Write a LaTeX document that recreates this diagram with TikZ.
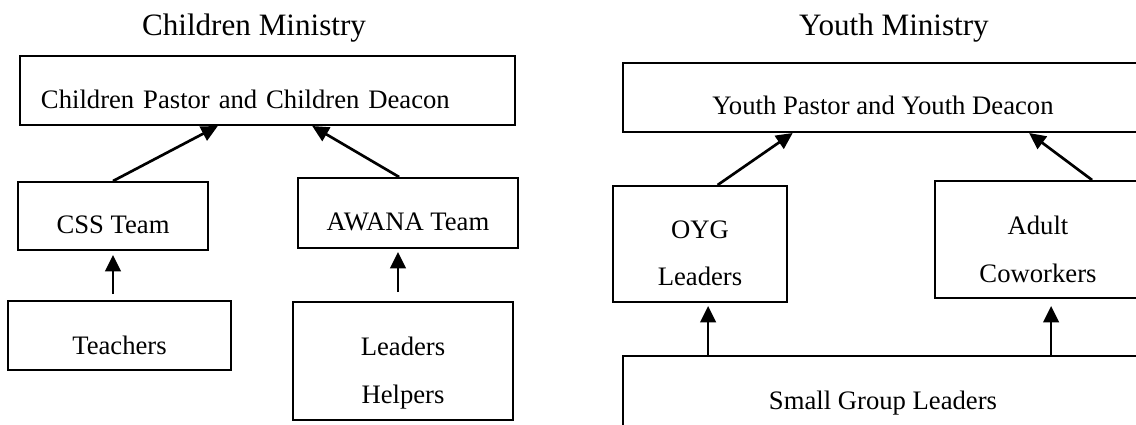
\documentclass[tikz,border=0pt]{standalone}
\usepackage{fontspec}
\setmainfont{Liberation Serif}
\usetikzlibrary{arrows.meta,calc}

\tikzset{
  box/.style={draw, line width=0.9pt, inner xsep=0pt, inner ysep=0pt,
    font=\fontsize{12}{14.5}\selectfont},
  ttl/.style={anchor=base, font=\fontsize{14}{17}\selectfont},
  arr/.style={-{Triangle[length=7.4pt,width=7pt]}, line width=1.2pt},
}

\begin{document}
\begin{tikzpicture}[x=0.45pt, y=-0.45pt]
  \useasboundingbox (0,0) rectangle (1136,424);
  \clip (0,0) rectangle (1136,424);

  % Children ministry chart
  \node[ttl] (ctitle) at (254,35) {Children Ministry};
  \node[box, text width=203.85pt, align=left, inner xsep=9.45pt,
    text height=23.4pt, text depth=7.65pt] (cp) at (267.5,90.5)
    {Children Pastor and Children Deacon};
  \node[box, minimum width=85.5pt, text height=22.95pt, text depth=7.65pt]
    (css) at (113,216) {CSS Team};
  \node[box, minimum width=99pt, text height=23.4pt, text depth=8.1pt]
    (awana) at (408,213) {AWANA Team};
  \node[box, minimum width=100.35pt, text height=23.85pt, text depth=7.2pt]
    (teach) at (119.5,335.5) {Teachers};
  \node[box, minimum width=99pt, text height=23.85pt, text depth=29.25pt]
    (lead) at (403,361)
    {\begin{tabular}[t]{@{}c@{}}Leaders\\[7.1pt]Helpers\end{tabular}};

  % Arrows up to the pastor box
  \draw[arr] (css.north) -- ($(cp.south west)!.4!(cp.south east)$);
  \draw[arr] ($(awana.north west)!.46!(awana.north east)$)
    -- ($(cp.south west)!.59!(cp.south east)$);

  % Arrows up to the teams
  \coordinate (aw) at ($(awana.south west)!.455!(awana.south east)$);
  \draw[arr, shorten <=2.7pt, shorten >=1.8pt] (teach.north -| css.south) -- (css.south);
  \draw[arr, shorten <=4pt, shorten >=1.35pt] (lead.north -| aw) -- (aw);

  % Youth ministry chart
  \node[ttl] (ytitle) at (894,35) {Youth Ministry};
  \node[box, minimum width=234pt, text height=22.95pt, text depth=8.1pt]
    (yp) at (883,97.5) {Youth Pastor and Youth Deacon};
  \node[box, minimum width=78.3pt, text height=23.4pt, text depth=28.8pt]
    (oyg) at (700,244)
    {\begin{tabular}[t]{@{}c@{}}OYG\\[6.7pt]Leaders\end{tabular}};
  \node[box, minimum width=92.7pt, text height=23.85pt, text depth=28.8pt]
    (adult) at (1038,239.5)
    {\begin{tabular}[t]{@{}c@{}}Adult\\[7.1pt]Coworkers\end{tabular}};
  \node[box, line width=1.2pt, minimum width=234pt, text height=23.85pt,
    text depth=13.5pt] (sg) at (883,397.5) {Small Group Leaders};

  % Arrows up to the youth pastor box
  \draw[arr] ($(oyg.north west)!.6!(oyg.north east)$)
    -- ($(yp.south west)!.327!(yp.south east)$);
  \draw[arr] ($(adult.north west)!.76!(adult.north east)$)
    -- ($(yp.south west)!.78!(yp.south east)$);

  % Arrows up from the small groups
  \coordinate (og) at ($(oyg.south west)!.546!(oyg.south east)$);
  \coordinate (ad) at ($(adult.south west)!.563!(adult.south east)$);
  \draw[arr, shorten >=1.35pt] (sg.north -| og) -- (og);
  \draw[arr, shorten >=3.15pt] (sg.north -| ad) -- (ad);
\end{tikzpicture}
\end{document}
